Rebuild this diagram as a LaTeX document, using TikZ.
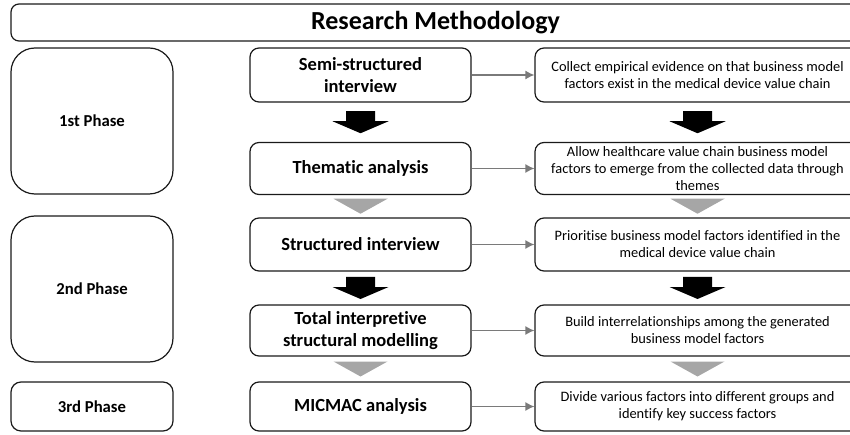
\documentclass[tikz,border=0pt]{standalone}
\usepackage{fontspec}
\setmainfont{Carlito}[Ligatures={NoCommon}]
\usetikzlibrary{calc,arrows.meta}
\definecolor{linegray}{HTML}{7A7A7A}
\definecolor{trigray}{HTML}{A6A6A6}
\definecolor{edge}{HTML}{1A1A1A}
\tikzset{
  box/.style={draw=edge, line width=1.2pt, rounded corners=9pt, fill=white, align=center, inner sep=0pt},
  midbox/.style={box, minimum width=221pt, font=\bfseries\fontsize{18.5}{22}\selectfont},
  rbox/.style={box, minimum width=325pt, font=\fontsize{14.4}{17}\selectfont},
  phase/.style={box, minimum width=162pt, rounded corners=24pt, font=\bfseries\fontsize{16.7}{20}\selectfont},
  link/.style={draw=linegray, line width=1.3pt, -{Latex[length=9pt,width=9pt]}},
  titlebox/.style={box, rounded corners=8pt, font=\bfseries\fontsize{26}{30}\selectfont}
}
\newcommand{\blkarrow}[2]{%
  \fill[black, shift={($(#1.south)!0.5!(#2.north)$)}]
    (-14.5,-11) -- (14.5,-11) -- (14.5,-1) -- (28,-1) -- (0,11) -- (-28,-1) -- (-14.5,-1) -- cycle;}
\newcommand{\grytri}[2]{%
  \fill[trigray, shift={($(#1.south)!0.5!(#2.north)$)}]
    (-27,-7.5) -- (27,-7.5) -- (0,7.5) -- cycle;}
\begin{document}
\begin{tikzpicture}[x=1pt,y=-1pt]
\clip (0,0) rectangle (850,435);
\useasboundingbox (0,0) rectangle (850,435);
% title
\node[titlebox, minimum width=849pt, minimum height=37pt] (title) at (435.5,22.5) {Research Methodology};
% phases
\node[phase, minimum height=146pt] (p1) at (92,121) {1st Phase};
\node[phase, minimum height=146pt] (p2) at (92,289) {2nd Phase};
\node[phase, minimum height=49pt, rounded corners=10pt] (p3) at (92,406.5) {3rd Phase};
% middle column
\node[midbox, minimum height=54pt] (m1) at (360.5,75) {Semi-structured\\interview};
\node[midbox, minimum height=52pt] (m2) at (360.5,168.5) {Thematic analysis};
\node[midbox, minimum height=53pt] (m3) at (360.5,244.5) {Structured interview};
\node[midbox, minimum height=51pt] (m4) at (360.5,330.5) {Total interpretive\\structural modelling};
\node[midbox, minimum height=49pt] (m5) at (360.5,406.5) {MICMAC analysis};
% right column
\node[rbox, minimum height=54pt] (r1) at (697.5,75) {Collect empirical evidence on that business model\\factors exist in the medical device value chain};
\node[rbox, minimum height=52pt] (r2) at (697.5,168.5) {Allow healthcare value chain business model\\factors to emerge from the collected data through\\themes};
\node[rbox, minimum height=53pt] (r3) at (697.5,244.5) {Prioritise business model factors identified in the\\medical device value chain};
\node[rbox, minimum height=51pt] (r4) at (697.5,330.5) {Build interrelationships among the generated\\business model factors};
\node[rbox, minimum height=49pt] (r5) at (697.5,406.5) {Divide various factors into different groups and\\identify key success factors};
% links
\foreach \i in {1,...,5} {\draw[link] (m\i.east) -- (r\i.west);}
% block arrows
\blkarrow{m1}{m2}
\blkarrow{r1}{r2}
\grytri{m2}{m3}
\grytri{r2}{r3}
\blkarrow{m3}{m4}
\blkarrow{r3}{r4}
\grytri{m4}{m5}
\grytri{r4}{r5}
\end{tikzpicture}
\end{document}
